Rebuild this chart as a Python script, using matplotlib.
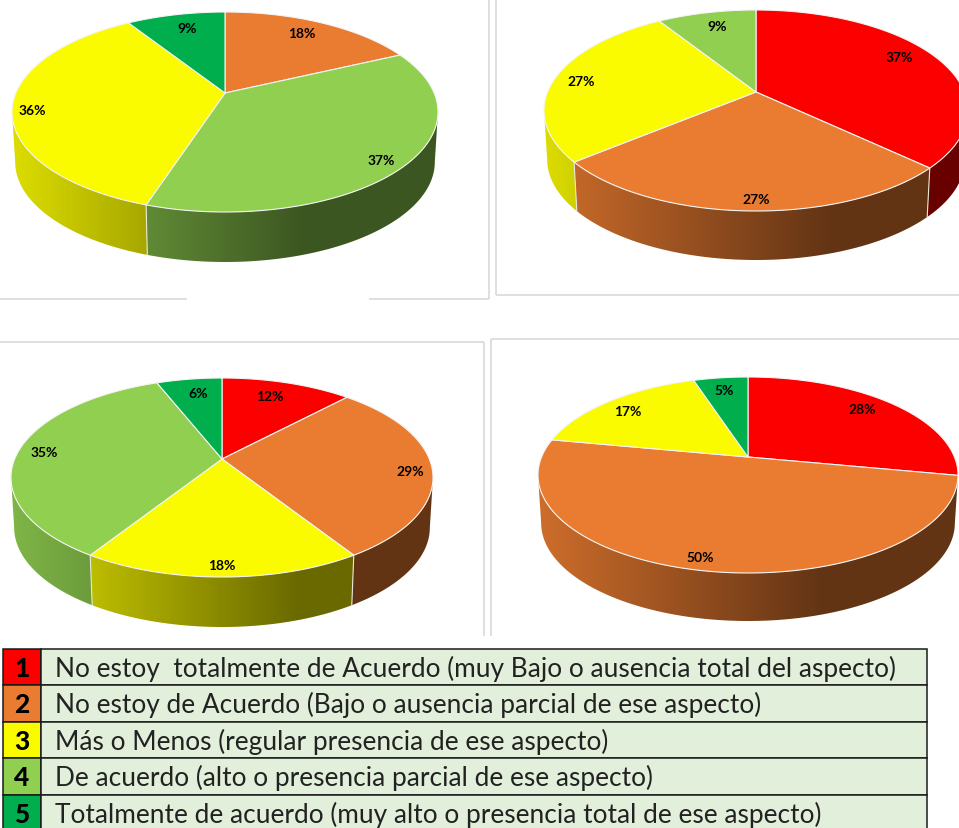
import numpy as np
import matplotlib
matplotlib.use("Agg")
import matplotlib.pyplot as plt
from matplotlib.colors import to_rgb
from matplotlib.patches import Polygon, Rectangle

# Response scale shared by the four pies
RED, ORANGE, YELLOW, LIME, GREEN = "#FC0000", "#EA7C31", "#FBFB00", "#90CF50", "#00AE4E"
scale_numbers = ["1", "2", "3", "4", "5"]
scale_colors = [RED, ORANGE, YELLOW, LIME, GREEN]
scale_labels = [
    "No estoy  totalmente de Acuerdo (muy Bajo o ausencia total del aspecto)",
    "No estoy de Acuerdo (Bajo o ausencia parcial de ese aspecto)",
    "Más o Menos (regular presencia de ese aspecto)",
    "De acuerdo (alto o presencia parcial de ese aspecto)",
    "Totalmente de acuerdo (muy alto o presencia total de ese aspecto)",
]

# Percentages per pie, clockwise from twelve o'clock
pie1_values = [18, 37, 36, 9]
pie2_values = [37, 27, 27, 9]
pie3_values = [12, 29, 18, 35, 6]
pie4_values = [28, 50, 17, 5]
pie1_colors = [ORANGE, LIME, YELLOW, GREEN]
pie2_colors = [RED, ORANGE, YELLOW, LIME]
pie3_colors = [RED, ORANGE, YELLOW, LIME, GREEN]
pie4_colors = [RED, ORANGE, YELLOW, GREEN]

# Geometry in pixels: centre x, centre y, half width, rise, fall, wall depth
pie1_shape = (225, 94, 213, 81, 119, 50)
pie2_shape = (756, 93, 212, 82, 119, 49)
pie3_shape = (222, 460, 211, 81, 118, 50)
pie4_shape = (748, 458, 210, 80, 116, 48)

# Label anchors in pixels, one per slice
pie1_labels = [(302, 34), (381, 161), (32, 111), (187, 29)]
pie2_labels = [(899, 58), (756, 200), (581, 82), (717, 27)]
pie3_labels = [(270, 397), (410, 472), (222, 566), (44, 453), (198, 394)]
pie4_labels = [(862, 410), (700, 558), (628, 412), (724, 391)]

FRAME = "#D9D9D9"
frame_lines = [
    ((0, 187), (300, 300)), ((369, 489), (300, 300)), ((489, 489), (0, 300)),
    ((496, 496), (0, 296)), ((496, 959), (296, 296)),
    ((0, 484), (343, 343)), ((484, 484), (343, 637)),
    ((491, 959), (340, 340)), ((491, 491), (340, 637)),
]

TABLE_BG = "#E2EFDA"
row_edges = [650, 686, 722.5, 758.5, 795.5, 832]

W, H = 959, 829
fig = plt.figure(figsize=(W / 100, H / 100), dpi=100)
ax = fig.add_axes([0, 0, 1, 1])


def tilt(shape):
    _, _, _, up, down, _ = shape
    return (down - up) / (down + up)


def rim(theta, shape):
    """Perspective projection of a point on the pie's rim, measured clockwise from the top."""
    cx, cy, a, up, down, _ = shape
    k = tilt(shape)
    ry = down * (1 - k)
    rx = a * np.sqrt(1 - k * k)
    u, v = np.sin(theta), -np.cos(theta)
    w = 1 - k * v
    return cx + rx * u / w, cy + ry * v / w


def shade_at(x, shape):
    """Brightness of the side wall: falls from left to right, then levels off."""
    cx, _, a, *_ = shape
    frac = (x - (cx - a)) / (2 * a)
    return np.where(frac < 0.68, 0.88 - 0.46 * frac / 0.68, 0.42)


def draw_pie(values, colors, labels, shape):
    cx, cy, a, up, down, depth = shape
    edges = np.cumsum([0] + values) / sum(values) * 2 * np.pi
    xs = np.linspace(cx - a, cx + a, 500)
    y_top, y_bot = cy - up - 2, cy + down + depth + 2

    # The wall shows only between the two extreme points of the rim
    front_start = np.arccos(-tilt(shape))
    front_end = 2 * np.pi - front_start

    for start, end, color in zip(edges[:-1], edges[1:], colors):
        lo, hi = max(start, front_start), min(end, front_end)
        if hi <= lo + 0.01:
            continue
        t = np.linspace(lo, hi, 200)
        x, y = rim(t, shape)
        xb = cx + (x - cx) * 0.985
        yb = y + depth
        pts = np.column_stack([np.r_[x, xb[::-1]], np.r_[y, yb[::-1]]])
        grad = np.outer(shade_at(xs, shape), to_rgb(color))[None, :, :]
        im = ax.imshow(grad, extent=(cx - a, cx + a, y_bot, y_top), aspect="auto",
                       interpolation="bilinear", zorder=2)
        im.set_clip_path(Polygon(pts, closed=True, transform=ax.transData))

    # Pale seams where two slices meet on the front of the wall
    for edge in edges[:-1]:
        if -np.cos(edge) > 0.5:
            x, y = rim(edge, shape)
            ax.plot([x, cx + (x - cx) * 0.985], [y, y + depth], color="#E8E8D8",
                    lw=0.8, zorder=3)

    # Top face
    for start, end, color in zip(edges[:-1], edges[1:], colors):
        t = np.linspace(start, end, 200)
        x, y = rim(t, shape)
        ax.fill(np.r_[cx, x], np.r_[cy, y], facecolor=color, edgecolor="#F4F4F4",
                lw=0.8, joinstyle="round", zorder=4)

    # Percentages
    for value, (lx, ly) in zip(values, labels):
        ax.text(lx, ly, f"{value}%", ha="center", va="center", fontsize=10,
                fontfamily="Lato", fontweight="bold", color="#000000", zorder=5)


def draw_table():
    left, split, right = 2.5, 41, 927
    for i, (num, col, text) in enumerate(zip(scale_numbers, scale_colors, scale_labels)):
        y0, y1 = row_edges[i], row_edges[i + 1]
        ax.add_patch(Rectangle((left, y0), split - left, y1 - y0, facecolor=col,
                               edgecolor="#1A1A1A", lw=1.1, zorder=2))
        ax.add_patch(Rectangle((split, y0), right - split, y1 - y0, facecolor=TABLE_BG,
                               edgecolor="#1A1A1A", lw=1.1, zorder=2))
        ym = (y0 + y1) / 2 + 1
        ax.text((left + split) / 2, ym, num, ha="center", va="center", fontsize=19,
                fontfamily="Lato", fontweight="black", color="#000000", zorder=3)
        ax.text(55, ym, text, ha="left", va="center", fontsize=18.87,
                fontfamily="Lato", color="#222222", zorder=3)


for xs_, ys_ in frame_lines:
    ax.plot(xs_, ys_, color=FRAME, lw=1.2, zorder=1, solid_capstyle="butt")

draw_pie(pie1_values, pie1_colors, pie1_labels, pie1_shape)
draw_pie(pie2_values, pie2_colors, pie2_labels, pie2_shape)
draw_pie(pie3_values, pie3_colors, pie3_labels, pie3_shape)
draw_pie(pie4_values, pie4_colors, pie4_labels, pie4_shape)
draw_table()

ax.set_xlim(0, W)
ax.set_ylim(H, 0)
ax.axis("off")
fig.savefig("out.png", dpi=100)
